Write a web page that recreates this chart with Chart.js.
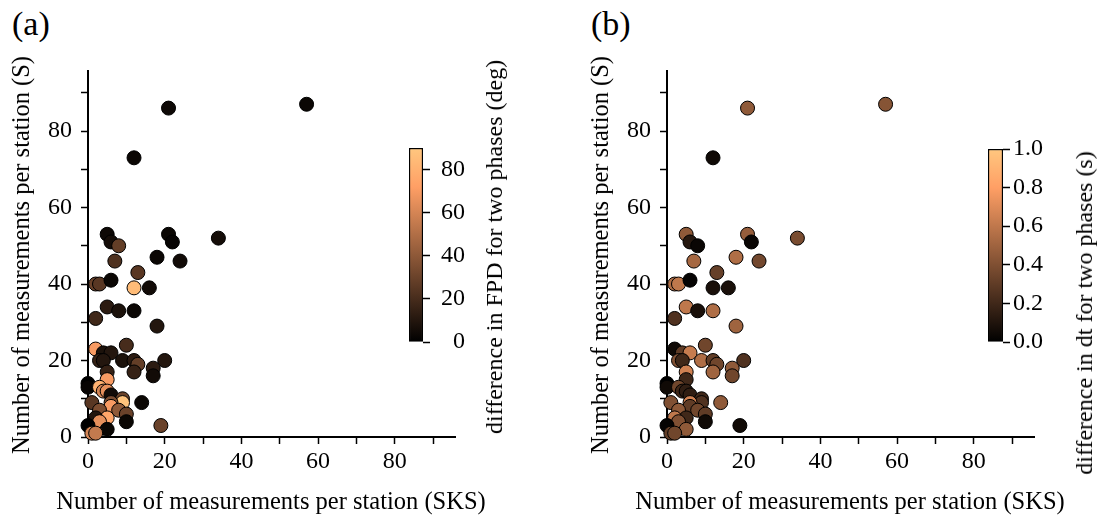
<!DOCTYPE html>
<html lang="en">
<head>
    <meta charset="UTF-8">
    <script src="https://cdn.jsdelivr.net/npm/chart.js@4.4.0/dist/chart.umd.min.js"></script>
    <title>FPD and dt differences vs. measurement counts</title>
    <style>
        html, body {
            margin: 0;
            padding: 0;
            background: #fff;
            font-family: "Liberation Serif", serif;
        }

        #fig {
            position: relative;
            width: 1098px;
            height: 519px;
            overflow: hidden;
        }

        canvas {
            position: absolute;
        }

        .panel-label {
            position: absolute;
            font-size: 34px;
            line-height: 1;
            color: #000;
        }

        .ax-title, .cb-label {
            position: absolute;
            line-height: 24px;
            height: 24px;
            white-space: nowrap;
            color: #000;
        }

        .ax-title {
            font-size: 24.5px;
        }

        .cb-label {
            font-size: 24px;
        }

        .xt {
            transform: translate(-50%, -50%);
        }

        .yt, .cb-label {
            transform: translate(-50%, -50%) rotate(-90deg);
        }
    </style>
</head>

<body>
    <div id="fig">
        <div class="panel-label" style="left: 12px; top: 7px;">(a)</div>
        <div class="panel-label" style="left: 591px; top: 7px;">(b)</div>

        <canvas id="chartA" width="549" height="519" style="left: 0; top: 0;"></canvas>
        <canvas id="cbarA" width="80" height="230" style="left: 400px; top: 130px;"></canvas>
        <div class="ax-title xt" style="left: 271px; top: 501px;">Number of measurements per station (SKS)</div>
        <div class="ax-title yt" style="left: 21px; top: 255px;">Number of measurements per station (S)</div>
        <div class="cb-label" style="left: 494px; top: 247px;">difference in FPD for two phases (deg)</div>

        <canvas id="chartB" width="519" height="519" style="left: 579px; top: 0;"></canvas>
        <canvas id="cbarB" width="80" height="230" style="left: 975px; top: 130px;"></canvas>
        <div class="ax-title xt" style="left: 850px; top: 501px;">Number of measurements per station (SKS)</div>
        <div class="ax-title yt" style="left: 600px; top: 255px;">Number of measurements per station (S)</div>
        <div class="cb-label" style="left: 1084px; top: 313px;">difference in dt for two phases (s)</div>
    </div>

    <script>
        // number of measurements per station
        const sksCounts = [57, 21, 12, 5, 6, 8, 21, 22, 34, 7, 18, 24, 13, 2, 3, 6, 12, 16, 5, 8, 12, 2, 18,
            2, 10, 4, 6, 3, 4, 9, 12, 13, 20, 17, 17, 12, 5, 5, 0, 0, 3, 4, 5, 6, 9, 9, 14, 1, 6, 6,
            8, 3, 10, 10, 5, 2, 3, 0, 19, 5, 1, 2];
        const sCounts = [87, 86, 73, 53, 51, 50, 53, 51, 52, 46, 47, 46, 43, 40, 40, 41, 39, 39, 34, 33, 33, 31, 29,
            23, 24, 22, 22, 20, 20, 20, 20, 19, 20, 18, 16, 17, 17, 15, 14, 13, 13, 12, 12, 11, 10, 9, 9, 9, 9, 8,
            7, 7, 6, 4, 5, 5, 4, 3, 3, 2, 1, 1];

        // colour values
        const fpdDiff = [3, 4, 3, 4, 6, 28, 3, 2, 6, 22, 3, 5, 25, 30, 25, 3, 85, 5, 12, 8, 3, 18, 10,
            70, 20, 8, 10, 15, 10, 8, 12, 28, 10, 12, 5, 15, 15, 70, 0, 2, 80, 60, 65, 5, 30, 88, 3, 25, 35, 70,
            40, 35, 30, 3, 75, 10, 65, 0, 30, 3, 60, 55];
        const dtDiff = [0.42, 0.45, 0.05, 0.45, 0.12, 0.03, 0.47, 0.03, 0.38, 0.52, 0.55, 0.36, 0.32, 0.55, 0.6, 0.02, 0.08, 0.08, 0.6, 0.08, 0.55, 0.25, 0.5,
            0.05, 0.35, 0.3, 0.62, 0.4, 0.2, 0.55, 0.3, 0.35, 0.25, 0.45, 0.35, 0.5, 0.65, 0.2, 0, 0.05, 0.35, 0.2, 0.15, 0.15, 0.2, 0.25, 0.45, 0.4, 0.65, 0.3,
            0.35, 0.45, 0.3, 0.05, 0.2, 0.6, 0.4, 0.02, 0.05, 0.45, 0.3, 0.35];

        const axisMax = 95.7;
        const fpdMax = 90;
        const dtMax = 1.0;

        const FONT = "'Liberation Serif', 'Times New Roman', serif";

        // matplotlib "copper"
        function copper(t) {
            t = Math.max(0, Math.min(1, t));
            const r = Math.round(255 * Math.min(1, 1.25 * t));
            const g = Math.round(255 * 0.7812 * t);
            const b = Math.round(255 * 0.4975 * t);
            return `rgb(${r},${g},${b})`;
        }

        function noPad(s) {
            s.paddingTop = 0;
            s.paddingBottom = 0;
            s.paddingLeft = 0;
            s.paddingRight = 0;
        }

        function makeScatter(id, values, vmax, padRight) {
            const points = sksCounts.map((x, i) => ({ x: x, y: sCounts[i] }));
            const colors = values.map(v => copper(v / vmax));
            const tickFont = { family: FONT, size: 24 };

            new Chart(document.getElementById(id), {
                type: 'scatter',
                data: {
                    datasets: [{
                        data: points,
                        pointRadius: 7,
                        pointHoverRadius: 7,
                        pointBackgroundColor: colors,
                        pointBorderColor: '#000',
                        pointBorderWidth: 1,
                        clip: false
                    }]
                },
                options: {
                    responsive: false,
                    animation: false,
                    events: [],
                    layout: { autoPadding: false, padding: { left: 0, right: padRight, top: 71, bottom: 0 } },
                    plugins: { legend: { display: false }, tooltip: { enabled: false } },
                    scales: {
                        x: {
                            type: 'linear',
                            min: 0,
                            max: axisMax,
                            afterFit: s => { s.height = 82; noPad(s); },
                            border: { color: '#000', width: 2 },
                            grid: { drawOnChartArea: false, tickLength: 7, tickColor: '#000', tickWidth: 1.5 },
                            ticks: {
                                stepSize: 10, includeBounds: false, autoSkip: false, maxRotation: 0,
                                color: '#000', font: tickFont, padding: 3,
                                callback: v => (v % 20 === 0 ? v : '')
                            }
                        },
                        y: {
                            type: 'linear',
                            min: 0,
                            max: axisMax,
                            afterFit: s => { s.width = 88; noPad(s); },
                            border: { color: '#000', width: 2 },
                            grid: { drawOnChartArea: false, tickLength: 7, tickColor: '#000', tickWidth: 1.5 },
                            ticks: {
                                stepSize: 10, includeBounds: false, autoSkip: false,
                                color: '#000', font: tickFont, padding: 9,
                                callback: v => (v % 20 === 0 ? v : '')
                            }
                        }
                    }
                }
            });
        }

        function makeColorbar(id, vmax, step, fmt, padTop, padLeft, padRight, scaleWidth, tickPad, align) {
            new Chart(document.getElementById(id), {
                type: 'bar',
                data: {
                    labels: [''],
                    datasets: [{
                        data: [[0, vmax]],
                        backgroundColor: c => {
                            const area = c.chart.chartArea;
                            if (!area) return null;
                            const g = c.chart.ctx.createLinearGradient(0, area.bottom, 0, area.top);
                            g.addColorStop(0, copper(0));
                            g.addColorStop(0.8, copper(0.8));
                            g.addColorStop(1, copper(1));
                            return g;
                        },
                        borderColor: '#000',
                        borderWidth: 1.5,
                        borderSkipped: false,
                        barPercentage: 1,
                        categoryPercentage: 1
                    }]
                },
                options: {
                    responsive: false,
                    animation: false,
                    events: [],
                    layout: { autoPadding: false, padding: { left: padLeft, right: padRight, top: padTop, bottom: 18 } },
                    plugins: { legend: { display: false }, tooltip: { enabled: false } },
                    scales: {
                        x: { display: false },
                        y: {
                            position: 'right',
                            min: 0,
                            max: vmax,
                            afterFit: s => { s.width = scaleWidth; noPad(s); },
                            border: { display: false },
                            grid: { drawOnChartArea: false, tickLength: 7, tickColor: '#000', tickWidth: 1.5 },
                            ticks: {
                                stepSize: step, includeBounds: false, crossAlign: align,
                                color: '#000', font: { family: FONT, size: 24 }, padding: tickPad,
                                callback: fmt
                            }
                        }
                    }
                }
            });
        }

        makeScatter('chartA', fpdDiff, fpdMax, 94);
        makeColorbar('cbarA', fpdMax, 20, v => v, 18, 9, 15, 42, 4, 'far');

        makeScatter('chartB', dtDiff, dtMax, 64);
        makeColorbar('cbarB', dtMax, 0.2, v => Number(v).toFixed(1), 19, 13, 0, 52, 3, 'near');
    </script>
</body>
</html>
